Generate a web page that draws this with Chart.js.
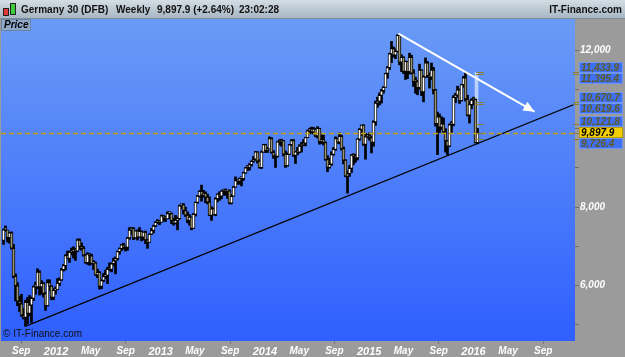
<!DOCTYPE html>
<html>
<head>
<meta charset="utf-8">
<script src="https://cdn.jsdelivr.net/npm/chart.js@4.4.1/dist/chart.umd.min.js"></script>
<style>
  html, body { margin: 0; padding: 0; background: #9b9b9b; }
  #wrap { position: relative; width: 625px; height: 357px; overflow: hidden; background: #9b9b9b; }
  #chart { position: absolute; left: 0; top: 0; }
  #hdr {
    position: absolute; left: 0; top: 0; width: 625px; height: 18px;
    background: linear-gradient(#d3dde4, #a7b7c3);
    border-bottom: 1px solid #7f8c96;
    font: bold 10px "Liberation Sans", Arial, sans-serif; color: #111;
  }
  #hdr span { position: absolute; top: 0; line-height: 19px; white-space: nowrap; }
  .candle { position: absolute; border: 1px solid #222; }
  #price {
    position: absolute; left: 1px; top: 19px; width: 26px; height: 10px;
    background: #8ea8c8; border: 1px solid #6d84a0;
    font: italic bold 10px "Liberation Sans", Arial, sans-serif; color: #000;
    line-height: 10px; padding-left: 2px;
  }
  #copy {
    position: absolute; left: 3px; top: 328px;
    font: 10px "Liberation Sans", Arial, sans-serif; color: #111; white-space: nowrap;
  }
</style>
</head>
<body>
<div id="wrap">
  <canvas id="chart" width="625" height="357"></canvas>
  <div id="hdr">
    <div class="candle" style="left:3px;top:8px;width:4px;height:6px;background:#e23a3a"></div>
    <div class="candle" style="left:10px;top:3px;width:4px;height:10px;background:#3ccc3c"></div>
    <span style="left:21px">Germany 30 (DFB)</span>
    <span style="left:116px">Weekly</span>
    <span style="left:157px">9,897.9 (+2.64%)</span>
    <span style="left:239px">23:02:28</span>
    <span style="right:3px">IT-Finance.com</span>
  </div>
  <div id="price">Price</div>
  <div id="copy">© IT-Finance.com</div>
</div>
<script>
// weekly bars, first bar = week ending 2011-07-01
const firstBarDate = "2011-07-01";
const firstOpen = 7150;

const weekClose = [
  7419, 7419, 7220, 7344, 6953, 6236, 5997, 5602, 5538, 5246,
  5189, 5573, 5295, 5502, 5675, 5967, 5970, 6346, 5966, 6057,
  5800, 5492, 6080, 5987, 5702, 5878, 5898, 6057, 6143, 6404,
  6511, 6766, 6693, 6849, 6864, 6921, 6880, 7158, 6996, 6947,
  6775, 6583, 6801, 6761, 6561, 6579, 6271, 6339, 5978, 6130,
  6229, 6263, 6416, 6410, 6557, 6630, 6689, 6865, 6944, 7040,
  6971, 6970, 7214, 7412, 7451, 7216, 7398, 7233, 7380, 7232,
  7363, 7163, 7101, 7309, 7405, 7518, 7614, 7636, 7612, 7776,
  7715, 7702, 7833, 7833, 7652, 7593, 7661, 7708, 8030, 8058,
  7913, 7795, 7658, 7744, 7459, 7814, 8122, 8278, 8399, 8305,
  8348, 8254, 8127, 7789, 7959, 7806, 8212, 8331, 8276, 8410,
  8445, 8391, 8417, 8103, 8276, 8510, 8675, 8661, 8723, 8725,
  8870, 9001, 9009, 9078, 9168, 9219, 9406, 9172, 9006, 9400,
  9589, 9435, 9473, 9742, 9393, 9306, 9289, 9663, 9657, 9692,
  9350, 9056, 9343, 9587, 9695, 9315, 9409, 9401, 9556, 9581,
  9630, 9768, 9943, 9987, 9913, 9987, 9815, 10009, 9666, 9720,
  9644, 9210, 9009, 9092, 9339, 9470, 9747, 9651, 9799, 9490,
  9195, 8788, 8850, 8988, 9326, 9291, 9252, 9732, 9980, 10087,
  9594, 9787, 9806, 9765, 9648, 10167, 10649, 10694, 10846, 10963,
  11050, 11401, 11550, 11901, 12039, 11868, 11967, 12375, 11689, 11811,
  11454, 11709, 11447, 11815, 11413, 11197, 11196, 11040, 11492, 10934,
  11316, 11673, 11347, 11308, 11490, 10985, 10124, 10298, 10038, 10123,
  9916, 9688, 9553, 10096, 10104, 10795, 10850, 10988, 10708, 11120,
  11293, 10752, 10340, 10608, 10727, 10743, 9643, 9897.9
];
const weekHigh = [
  7440, 7520, 7400, 7360, 7370, 7050, 6300, 6080, 5730, 5780,
  5420, 5630, 5700, 5750, 5710, 5990, 6090, 6430, 6380, 6130,
  6080, 5830, 6150, 6150, 6000, 5920, 5970, 6180, 6200, 6440,
  6540, 6790, 6880, 6880, 6960, 6990, 6950, 7190, 7190, 7090,
  7000, 6800, 6840, 6820, 6800, 6640, 6600, 6420, 6360, 6160,
  6310, 6400, 6470, 6580, 6580, 6700, 6730, 6880, 6960, 7050,
  7080, 7000, 7230, 7480, 7480, 7480, 7400, 7420, 7480, 7400,
  7370, 7390, 7190, 7320, 7460, 7540, 7630, 7680, 7660, 7800,
  7790, 7760, 7880, 7870, 7850, 7720, 7790, 7750, 8050, 8080,
  8090, 8000, 7880, 7810, 7750, 7840, 8130, 8300, 8420, 8560,
  8430, 8390, 8330, 8260, 8010, 7980, 8240, 8340, 8390, 8420,
  8450, 8460, 8430, 8440, 8320, 8530, 8770, 8700, 8740, 8740,
  8890, 9010, 9060, 9110, 9180, 9290, 9420, 9410, 9210, 9430,
  9600, 9600, 9520, 9790, 9770, 9440, 9320, 9670, 9720, 9730,
  9700, 9430, 9380, 9600, 9720, 9720, 9420, 9520, 9590, 9650,
  9720, 9780, 9960, 10010, 10040, 10030, 10000, 10050, 10010, 9840,
  9830, 9660, 9310, 9250, 9410, 9520, 9790, 9760, 9890, 9830,
  9530, 9210, 8920, 9060, 9340, 9360, 9340, 9740, 10000, 10090,
  10100, 9880, 9850, 9890, 9800, 10200, 10700, 10800, 10910, 11000,
  11070, 11410, 11580, 11920, 12220, 12080, 12030, 12390, 12380, 11880,
  11830, 11720, 11690, 11920, 11870, 11500, 11310, 11230, 11640, 11500,
  11350, 11800, 11710, 11420, 11670, 11560, 11000, 10420, 10370, 10300,
  10270, 10000, 9700, 10120, 10180, 10840, 10900, 11080, 11010, 11130,
  11330, 11430, 10850, 10700, 10760, 10800, 10750, 10010
];
const weekLow = [
  7050, 7380, 7110, 7080, 6930, 6200, 5610, 5490, 5340, 5220,
  5150, 4965, 5030, 5230, 5060, 5620, 5780, 5920, 5760, 5780,
  5710, 5370, 5480, 5870, 5640, 5640, 5780, 5900, 6000, 6130,
  6370, 6400, 6680, 6590, 6780, 6700, 6640, 6860, 6920, 6900,
  6750, 6570, 6540, 6520, 6540, 6410, 6260, 6200, 5910, 5920,
  6100, 6180, 6050, 6380, 6350, 6500, 6300, 6650, 6800, 6890,
  6930, 6880, 6900, 7180, 7300, 7170, 7200, 7160, 7230, 7140,
  7160, 7070, 6950, 7110, 7300, 7340, 7500, 7580, 7550, 7620,
  7640, 7630, 7700, 7700, 7580, 7540, 7570, 7420, 7690, 7960,
  7820, 7760, 7600, 7540, 7420, 7450, 7770, 8100, 8250, 8150,
  8250, 8110, 8080, 7780, 7660, 7800, 7780, 8130, 8170, 8210,
  8300, 8300, 8220, 8080, 8080, 8280, 8500, 8580, 8580, 8540,
  8680, 8860, 8930, 8940, 9040, 9140, 9190, 9120, 8990, 8980,
  9400, 9390, 9390, 9500, 9370, 9240, 9010, 9270, 9580, 9550,
  9300, 9010, 9040, 9340, 9560, 9290, 9110, 9330, 9380, 9400,
  9560, 9560, 9780, 9860, 9880, 9860, 9790, 9760, 9600, 9620,
  9580, 9190, 8900, 8990, 9060, 9320, 9440, 9620, 9610, 9450,
  9100, 8770, 8355, 8780, 8880, 9080, 9140, 9200, 9700, 9820,
  9570, 9220, 9760, 9700, 9380, 9550, 10080, 10540, 10600, 10650,
  10900, 11070, 11280, 11500, 11680, 11820, 11780, 11940, 11620, 11450,
  11400, 11250, 11270, 11390, 11390, 11070, 10900, 10860, 11000, 10840,
  10680, 11300, 11300, 11030, 11250, 10880, 10060, 9338, 9900, 9970,
  9880, 9400, 9330, 9540, 9900, 10070, 10660, 10800, 10640, 10700,
  11050, 10700, 10320, 10140, 10500, 10600, 9630, 9610
];

// price levels shown on the right axis
const levelValues = [11433.9, 11395.4, 10670.7, 10619.6, 10121.8, 9897.9, 9726.4];
const lastPrice = 9897.9;

// drawn lines: [week index, price]
const supportLine = [[11.5, 4976], [290, 10710]];
const arrowLine = [[197.5, 12420], [265.5, 10430]];

// bottom axis labels
const tickDates = ["2011-09-01", "2012-01-01", "2012-05-01", "2012-09-01", "2013-01-01", "2013-05-01",
  "2013-09-01", "2014-01-01", "2014-05-01", "2014-09-01", "2015-01-01", "2015-05-01", "2015-09-01",
  "2016-01-01", "2016-05-01", "2016-09-01"];
const tickLabels = ["Sep", "2012", "May", "Sep", "2013", "May", "Sep", "2014", "May", "Sep", "2015",
  "May", "Sep", "2016", "May", "Sep"];
const priceTicks = [5000, 6000, 7000, 8000, 9000, 10000, 11000, 12000];

const weekMs = 7 * 86400000;
const weekIndex = d => (Date.parse(d) - Date.parse(firstBarDate)) / weekMs;

const weekOpen = weekClose.map((c, i) => i === 0 ? firstOpen : weekClose[i - 1]);
const wickData = weekClose.map((c, i) => ({ x: i, y: [weekLow[i], weekHigh[i]] }));
const bodyData = weekClose.map((c, i) => ({ x: i, y: [weekOpen[i], c] }));
const bodyColors = weekClose.map((c, i) => c >= weekOpen[i] ? "#ffffff" : "#9d9673");
const lastIdx = weekClose.length - 1;

const FONT = "'Liberation Sans', Arial, sans-serif";

const bgPlugin = {
  id: "bg",
  beforeDraw(chart) {
    const { ctx, chartArea: a } = chart;
    const g = ctx.createLinearGradient(0, a.top, 0, a.bottom);
    g.addColorStop(0, "#6a9bf6");
    g.addColorStop(1, "#2f5ffe");
    ctx.save();
    ctx.fillStyle = g;
    ctx.fillRect(a.left, a.top, a.right - a.left, a.bottom - a.top);
    ctx.restore();
  }
};

const overlayPlugin = {
  id: "overlay",
  afterDraw(chart) {
    const { ctx, chartArea: a } = chart;
    const xs = chart.scales.x, ys = chart.scales.y;
    ctx.save();

    // arrow head
    const p0 = [xs.getPixelForValue(arrowLine[0][0]), ys.getPixelForValue(arrowLine[0][1])];
    const p1 = [xs.getPixelForValue(arrowLine[1][0]), ys.getPixelForValue(arrowLine[1][1])];
    const ang = Math.atan2(p1[1] - p0[1], p1[0] - p0[0]);
    ctx.fillStyle = "#ffffff";
    ctx.beginPath();
    ctx.moveTo(p1[0], p1[1]);
    ctx.lineTo(p1[0] - 11 * Math.cos(ang) + 5 * Math.sin(ang), p1[1] - 11 * Math.sin(ang) - 5 * Math.cos(ang));
    ctx.lineTo(p1[0] - 11 * Math.cos(ang) - 5 * Math.sin(ang), p1[1] - 11 * Math.sin(ang) + 5 * Math.cos(ang));
    ctx.closePath();
    ctx.fill();

    // dashed last price line
    ctx.beginPath();
    ctx.rect(a.left, a.top, a.right - a.left, a.bottom - a.top);
    ctx.clip();
    const yl = Math.round(ys.getPixelForValue(lastPrice)) + 0.5;
    ctx.strokeStyle = "#c4a000";
    ctx.lineWidth = 1.5;
    ctx.setLineDash([5, 3]);
    ctx.beginPath();
    ctx.moveTo(a.left, yl);
    ctx.lineTo(a.right, yl);
    ctx.stroke();
    ctx.setLineDash([]);

    // small level marks next to the last bar
    const xm = Math.round(xs.getPixelForValue(lastIdx)) - 2;
    ctx.strokeStyle = "#8a7d35";
    ctx.lineWidth = 1;
    levelValues.forEach(v => {
      const y = Math.round(ys.getPixelForValue(v)) + 0.5;
      ctx.beginPath();
      ctx.moveTo(xm, y);
      ctx.lineTo(xm + 8, y);
      ctx.stroke();
    });
    ctx.restore();

    // right axis level boxes
    ctx.save();
    const boxH = 11;
    const items = levelValues.map(v => ({ v, y: ys.getPixelForValue(v), c: ys.getPixelForValue(v), fixed: v === lastPrice }))
      .sort((p, q) => p.y - q.y);
    for (let it = 0; it < 30; it++) {
      for (let k = 0; k < items.length - 1; k++) {
        const u = items[k], w = items[k + 1];
        const d = boxH - (w.c - u.c);
        if (d > 0) {
          if (u.fixed) w.c += d;
          else if (w.fixed) u.c -= d;
          else { u.c -= d / 2; w.c += d / 2; }
        }
      }
    }
    items.forEach(it => {
      const y = Math.round(it.y) + 0.5;
      ctx.strokeStyle = "#8a7d35";
      ctx.beginPath();
      ctx.moveTo(a.right - 2, y);
      ctx.lineTo(a.right + 4, y);
      ctx.stroke();
      const top = Math.round(it.c - boxH / 2);
      ctx.fillStyle = it.fixed ? "#f4d000" : "#3f70f3";
      ctx.fillRect(a.right + 4, top, 44, boxH);
      ctx.strokeStyle = it.fixed ? "#b89c00" : "#6f95f6";
      ctx.strokeRect(a.right + 4.5, top + 0.5, 43, boxH - 1);
      ctx.fillStyle = it.fixed ? "#000000" : "#5d5a26";
      ctx.font = "italic bold 10px " + FONT;
      ctx.textBaseline = "middle";
      ctx.fillText(it.v.toLocaleString("en-US", { minimumFractionDigits: 1, maximumFractionDigits: 1 }), a.right + 6, top + boxH / 2 + 0.5);
    });
    ctx.restore();
  }
};

new Chart(document.getElementById("chart"), {
  type: "bar",
  data: {
    datasets: [
      {
        type: "line",
        data: arrowLine.map(p => ({ x: p[0], y: p[1] })),
        borderColor: "#ffffff", borderWidth: 2, pointRadius: 0, order: 0
      },
      {
        type: "line",
        data: supportLine.map(p => ({ x: p[0], y: p[1] })),
        borderColor: "#000000", borderWidth: 1.2, pointRadius: 0, order: 1
      },
      {
        data: bodyData, backgroundColor: bodyColors, borderColor: "#000000", borderWidth: 1,
        borderSkipped: false, barThickness: 3, minBarLength: 2, grouped: false, order: 2
      },
      {
        data: wickData, backgroundColor: "#000000", barThickness: 2, grouped: false, order: 3
      },
      {
        data: [{ x: lastIdx - 0.5, y: [levelValues[levelValues.length - 1], levelValues[0]] }],
        backgroundColor: "rgba(225,236,255,0.7)", barThickness: 3, grouped: false, order: 5
      }
    ]
  },
  options: {
    responsive: false,
    animation: false,
    layout: { padding: { left: 1, top: 19, right: 0, bottom: 0 } },
    plugins: { legend: { display: false }, tooltip: { enabled: false } },
    scales: {
      x: {
        type: "linear", min: -1.25, max: 285.75, offset: false,
        grid: { drawOnChartArea: false, offset: false, tickLength: 3,
          color: ctx => (ctx.tick && tickLabels[ctx.index] === "Sep") ? "#777777" : "rgba(0,0,0,0)" },
        border: { display: false },
        afterBuildTicks: s => { s.ticks = tickDates.map(d => ({ value: weekIndex(d) })); },
        afterFit: s => { s.height = 16; s.paddingLeft = 0; s.paddingRight = 0; },
        ticks: {
          autoSkip: false, maxRotation: 0, padding: 1, color: "#ffffff",
          font: ctx => ({ family: FONT, size: /^\d+$/.test(tickLabels[ctx.index]) ? 11 : 10, style: "italic", weight: "bold" }),
          callback: (v, i) => tickLabels[i]
        }
      },
      y: {
        type: "linear", position: "right", min: 4590, max: 12790,
        grid: { drawOnChartArea: false, tickLength: 4, color: "#6d6d6d" },
        border: { display: false },
        afterBuildTicks: s => { s.ticks = priceTicks.map(v => ({ value: v })); },
        afterFit: s => { s.width = 50; s.paddingTop = 0; s.paddingBottom = 0; },
        ticks: {
          padding: 1, color: "#ffffff",
          font: { family: FONT, size: 10, style: "italic", weight: "bold" },
          callback: v => v % 2000 === 0 ? v.toLocaleString("en-US") : ""
        }
      }
    }
  },
  plugins: [bgPlugin, overlayPlugin]
});
</script>
</body>
</html>
